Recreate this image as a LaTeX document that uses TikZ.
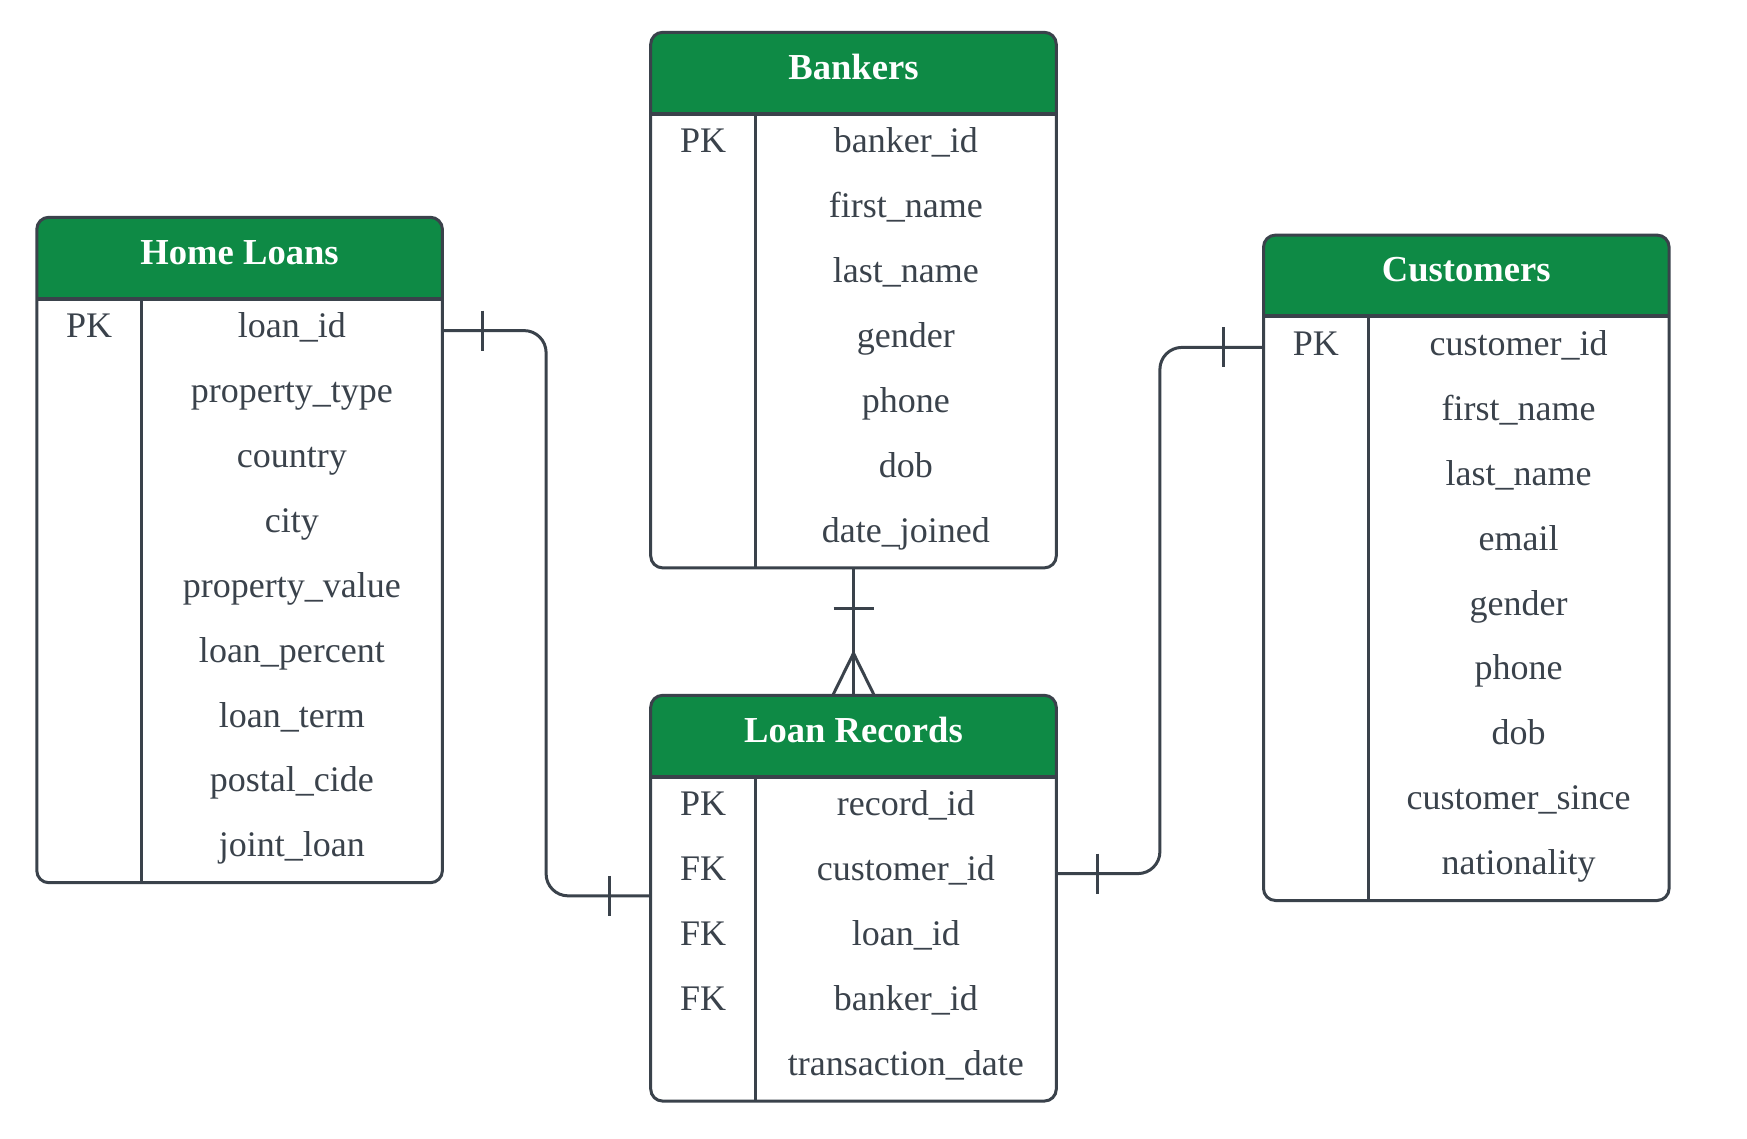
\documentclass[tikz,border=0pt]{standalone}
\usepackage{fontspec}
\setmainfont{Liberation Serif}
\usepackage{tikz}
\usetikzlibrary{positioning,calc,backgrounds}
\definecolor{hdrgreen}{HTML}{0E8A45}
\definecolor{ink}{HTML}{3A424B}

\begin{document}
\begin{tikzpicture}[
  x=0.5pt, y=-0.5pt,
  head/.style={anchor=north west, minimum width=202.8pt, minimum height=40.65pt, inner sep=0pt, outer sep=0pt,
    font=\fontsize{18.3}{22}\selectfont\bfseries, text=white, text height=0.8em, text depth=0.19em},
  rows/.style={minimum width=202.8pt, inner sep=0pt, outer sep=0pt},
  field/.style={anchor=base, inner sep=0pt, font=\fontsize{18}{21}\selectfont, text=ink},
  frame/.style={draw=ink, line width=1.5pt, rounded corners=6pt},
  rel/.style={draw=ink, line width=1.5pt},
  elbow/.style={rel, rounded corners=11pt}
]
\useasboundingbox (0,0) rectangle (1747,1139);

% tables: header node + body node, fields placed by row
\node[head] (hl) at (36.8,217.3) {Home Loans};
\node[rows, minimum height=292.05pt, below=0pt of hl] (hl-b) {};
\node[field] (hl-pk) at ($(hl-b.north)+(-150.45,39)$) {PK};
\foreach \f [count=\i] in {loan\_id,property\_type,country,city,property\_value,loan\_percent,loan\_term,postal\_cide,joint\_loan}
  \node[field] (hl-\i) at ($(hl-b.north)+(52.35,{39+(\i-1)*64.9})$) {\f};

\node[head] (bk) at (650.7,32.3) {Bankers};
\node[rows, minimum height=227.15pt, below=0pt of bk] (bk-b) {};
\node[field] (bk-pk) at ($(bk-b.north)+(-150.45,39)$) {PK};
\foreach \f [count=\i] in {banker\_id,first\_name,last\_name,gender,phone,dob,date\_joined}
  \node[field] (bk-\i) at ($(bk-b.north)+(52.35,{39+(\i-1)*64.9})$) {\f};

\node[head] (cu) at (1263.5,235.1) {Customers};
\node[rows, minimum height=292.05pt, below=0pt of cu] (cu-b) {};
\node[field] (cu-pk) at ($(cu-b.north)+(-150.45,39)$) {PK};
\foreach \f [count=\i] in {customer\_id,first\_name,last\_name,email,gender,phone,dob,customer\_since,nationality}
  \node[field] (cu-\i) at ($(cu-b.north)+(52.35,{39+(\i-1)*64.9})$) {\f};

\node[head] (lr) at (650.7,695.3) {Loan Records};
\node[rows, minimum height=162.25pt, below=0pt of lr] (lr-b) {};
\foreach \k [count=\i] in {PK,FK,FK,FK}
  \node[field] (lr-k\i) at ($(lr-b.north)+(-150.45,{39+(\i-1)*64.9})$) {\k};
\foreach \f [count=\i] in {record\_id,customer\_id,loan\_id,banker\_id,transaction\_date}
  \node[field] (lr-\i) at ($(lr-b.north)+(52.35,{39+(\i-1)*64.9})$) {\f};

% header fills and frames
\foreach \t in {hl,bk,cu,lr}{
  \begin{scope}[on background layer]
    \fill[hdrgreen, rounded corners=6pt] (\t.north west) rectangle (\t.south east);
    \fill[hdrgreen] (\t.west) rectangle (\t.south east);
  \end{scope}
  \draw[frame] (\t.north west) rectangle (\t-b.south east);
  \draw[rel, line width=2pt] (\t.south west) -- (\t.south east);
  \draw[rel] ($(\t-b.north west)+(104.7,0)$) -- ($(\t-b.south west)+(104.7,0)$);
}

% relationships
\coordinate (hl-out) at ($(hl-b.north east)+(0,32)$);
\coordinate (lr-in) at ($(lr-b.west)+(0,-43)$);
\coordinate (cu-out) at ($(cu-b.north west)+(0,31)$);
\coordinate (lr-out) at ($(lr-b.north east)+(0,97)$);

\draw[elbow] (hl-out) -- ++(103.7,0) |- (lr-in);
\draw[rel] ($(hl-out)+(40,-20)$) -- ++(0,40);
\draw[rel] ($(lr-in)+(-41,-20)$) -- ++(0,40);

\draw[elbow] (cu-out) -- ++(-103.6,0) |- (lr-out);
\draw[rel] ($(cu-out)+(-40,-20)$) -- ++(0,40);
\draw[rel] ($(lr-out)+(41,-20)$) -- ++(0,40);

\draw[rel] (bk-b.south) -- (lr.north);
\draw[rel] ($(bk-b.south)+(-20,41)$) -- ++(40,0);
\draw[rel] ($(lr.north)+(-20.7,0)$) -- ($(lr.north)+(0,-42)$) -- ($(lr.north)+(20.7,0)$);
\end{tikzpicture}
\end{document}
